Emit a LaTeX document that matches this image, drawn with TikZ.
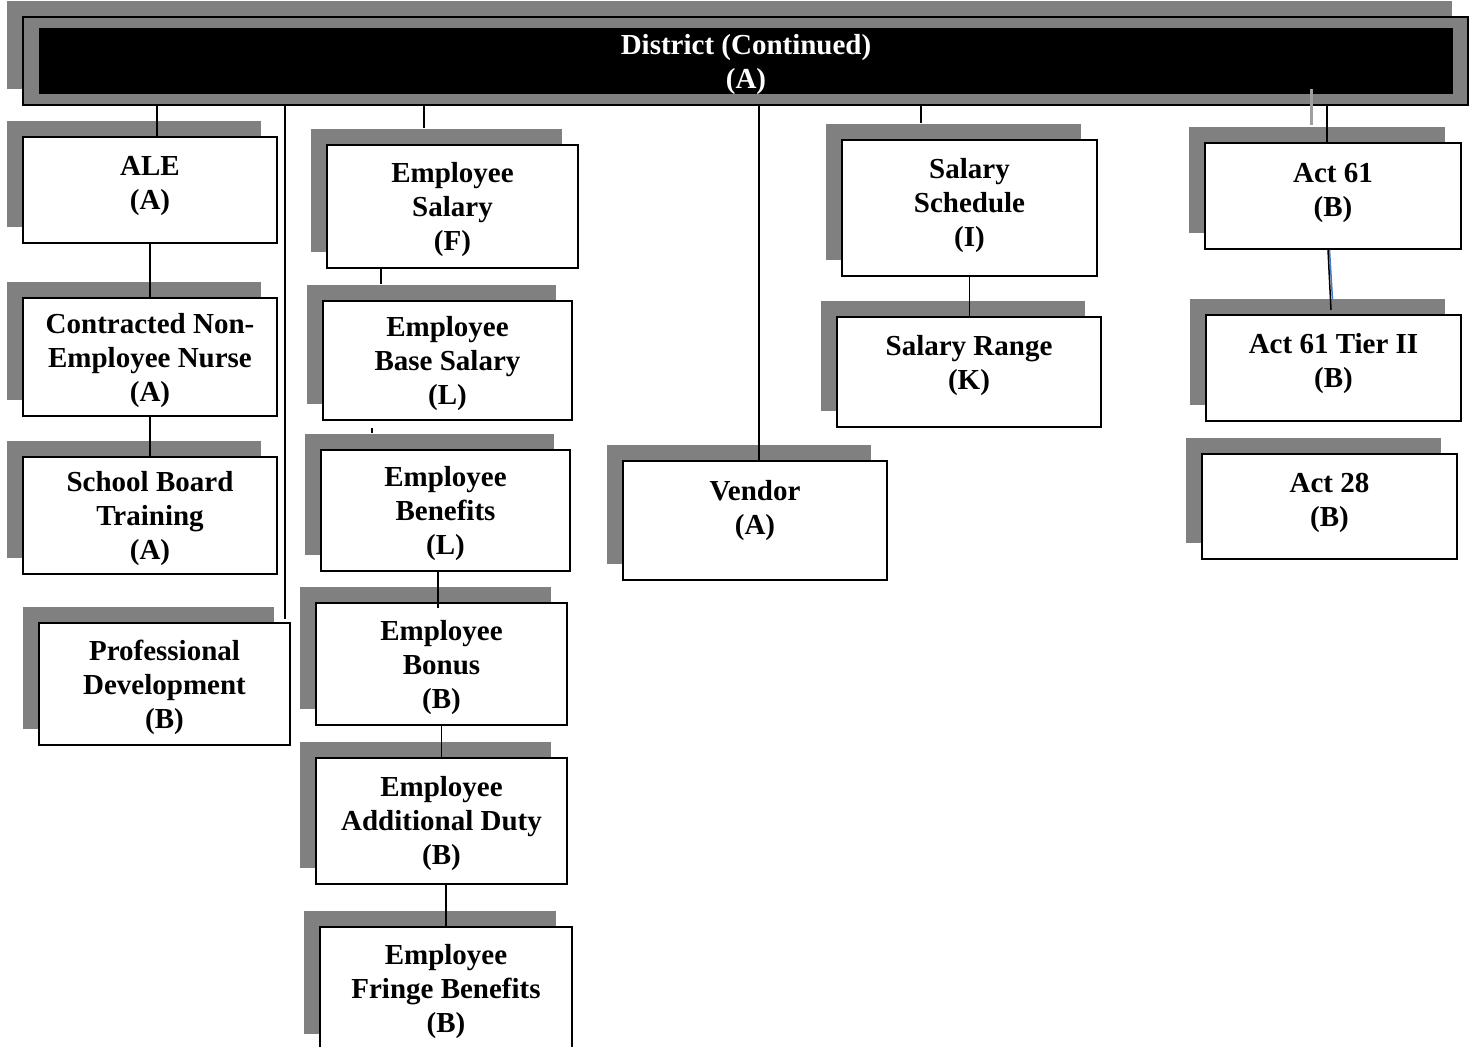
\documentclass[tikz,border=0pt]{standalone}
\usepackage{fontspec}
\setmainfont{Liberation Serif}
\usetikzlibrary{shadows}
\definecolor{shadowgray}{RGB}{128,128,128}
\definecolor{linkblue}{RGB}{70,120,200}
\tikzset{
  boxfont/.style={font=\fontsize{14.5}{17}\selectfont\bfseries},
  orgbox/.style={draw, line width=1pt, fill=white, align=center, inner sep=0pt, boxfont,
    general shadow={fill=shadowgray, shadow xshift=-8pt, shadow yshift=8pt}},
  lift/.style={text depth=#1},
  link/.style={line width=0.75pt}
}
\begin{document}
\begin{tikzpicture}[x=0.5pt, y=-0.5pt]
  \useasboundingbox (0,0) rectangle (1473,1047);

  % top bar
  \node[orgbox, fill=shadowgray, minimum width=722.5pt, minimum height=44pt] (frame) at (745.5,61) {};
  \node[fill=black, text=white, inner sep=0pt, align=center, boxfont, lift=-2pt,
        minimum width=707pt, minimum height=33pt] (district) at (746,61) {District (Continued)\\(A)};

  % left column
  \node[orgbox, minimum width=127pt, minimum height=53pt, lift=7pt] (ale) at (150,190) {ALE\\(A)};
  \node[orgbox, minimum width=127pt, minimum height=59pt, lift=-10pt] (nurse) at (150,357) {Contracted Non-\\Employee Nurse\\(A)};
  \node[orgbox, minimum width=127pt, minimum height=58.5pt, lift=-11pt] (board) at (150,515.5) {School Board\\Training\\(A)};
  \node[orgbox, minimum width=125.5pt, minimum height=61pt, lift=-4pt] (profdev) at (164.5,684) {Professional\\Development\\(B)};

  % employee column
  \node[orgbox, minimum width=125.5pt, minimum height=61.5pt, lift=-1pt] (esal) at (452.5,206.5) {Employee\\Salary\\(F)};
  \node[orgbox, minimum width=124.5pt, minimum height=59.5pt, lift=-4pt] (ebase) at (447.5,360.5) {Employee\\Base Salary\\(L)};
  \node[orgbox, minimum width=124.5pt, minimum height=60.5pt, lift=-6pt] (eben) at (445.5,510.5) {Employee\\Benefits\\(L)};
  \node[orgbox, minimum width=125.5pt, minimum height=61pt, lift=-3pt] (ebonus) at (441.5,664) {Employee\\Bonus\\(B)};
  \node[orgbox, minimum width=125.5pt, minimum height=63pt, lift=1pt] (eduty) at (441.5,821) {Employee\\Additional Duty\\(B)};
  \node[orgbox, minimum width=126pt, minimum height=61.5pt, lift=-3pt] (efringe) at (446,988) {Employee\\Fringe Benefits\\(B)};

  % vendor and salary
  \node[orgbox, minimum width=132pt, minimum height=59.5pt, lift=12.6pt] (vendor) at (755,520.5) {Vendor\\(A)};
  \node[orgbox, minimum width=127.5pt, minimum height=68pt, lift=6pt] (salsched) at (969.5,208) {Salary\\Schedule\\(I)};
  \node[orgbox, minimum width=132pt, minimum height=55pt, lift=10pt] (salrange) at (969,372) {Salary Range\\(K)};

  % acts
  \node[orgbox, minimum width=128pt, minimum height=53pt, lift=5.6pt] (act61) at (1333,196) {Act 61\\(B)};
  \node[orgbox, minimum width=127.5pt, minimum height=53pt, lift=7.6pt] (tier) at (1333.5,368) {Act 61 Tier II\\(B)};
  \node[orgbox, minimum width=127.5pt, minimum height=52.5pt, lift=6.6pt] (act28) at (1329.5,506.5) {Act 28\\(B)};

  % connectors
  \draw[link] ([xshift=3.5pt]ale.north) -- ([xshift=3.5pt]ale.north |- frame.south);
  \draw[link] (ale) -- (nurse);
  \draw[link] (nurse) -- (board);
  \draw[link] ([xshift=-3pt,yshift=1.5pt]profdev.north east) -- ([xshift=-3pt]profdev.north east |- frame.south);

  \draw[link] ([xshift=-14.25pt,yshift=8pt]esal.north) -- ([xshift=-14.25pt]esal.north |- frame.south);
  \draw[link] ([xshift=-35.75pt]esal.south) -- ([xshift=-33.25pt,yshift=8pt]ebase.north);
  \draw[link] ([xshift=-37.75pt,yshift=-3.5pt]ebase.south) -- ([xshift=-36.75pt,yshift=8pt]eben.north);
  \draw[link] ([xshift=-3.75pt]eben.south) -- ([xshift=-1.75pt,yshift=-3pt]ebonus.north);
  \draw[link] (ebonus) -- (eduty);
  \draw[link] (eduty.south -| efringe.north) -- (efringe.north);

  \draw[link] ([xshift=2pt]vendor.north) -- ([xshift=2pt]vendor.north |- frame.south);
  \draw[link] ([xshift=-24.25pt,yshift=8pt]salsched.north) -- ([xshift=-24.25pt]salsched.north |- frame.south);
  \draw[link] (salsched.south) -- (salsched.south |- salrange.north);

  \draw[link] ([xshift=-3pt]act61.north) -- ([xshift=-3pt]act61.north |- frame.south);
  \draw[linkblue, line width=0.75pt] ([xshift=-1.75pt]act61.south) -- ([xshift=-0.5pt,yshift=7pt]tier.north);
  \draw[link] ([xshift=-2.5pt]act61.south) -- ([xshift=-1.25pt,yshift=2pt]tier.north);
  %\draw[link] (act61) -- (tier);
  \draw[gray!75, line width=1.5pt] ([xshift=282.75pt,yshift=8.5pt]frame.south) -- ++(0,36);
\end{tikzpicture}
\end{document}
